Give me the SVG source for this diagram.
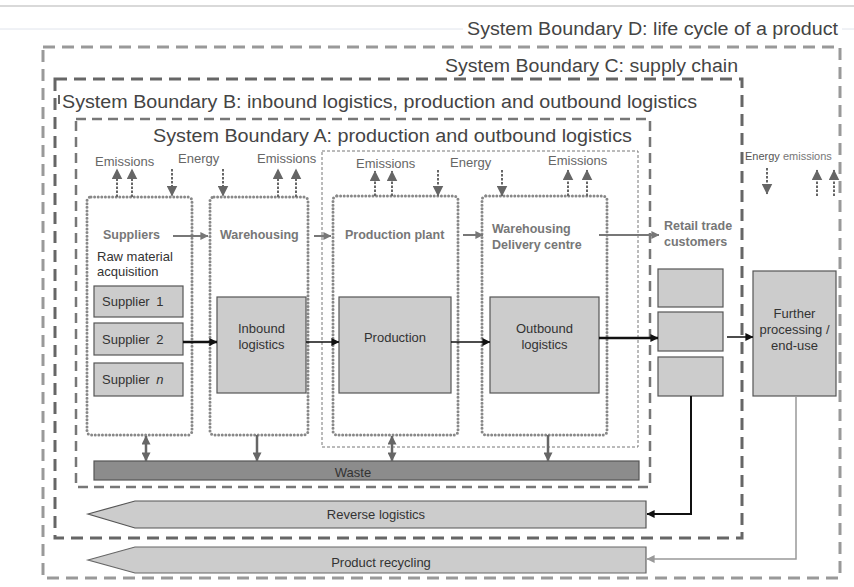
<svg xmlns="http://www.w3.org/2000/svg" width="854" height="587" viewBox="0 0 854 587">
<defs>
<marker id="hg" viewBox="0 0 10 10" refX="9.5" refY="5" markerWidth="11" markerHeight="11" markerUnits="userSpaceOnUse" orient="auto-start-reverse"><path d="M0,0 L10,5 L0,10 z" fill="#666"/></marker>
<marker id="hw" viewBox="0 0 10 10" refX="9.5" refY="5" markerWidth="9" markerHeight="9" markerUnits="userSpaceOnUse" orient="auto-start-reverse"><path d="M0,0 L10,5 L0,10 z" fill="#666"/></marker>
<marker id="hs" viewBox="0 0 10 10" refX="9.5" refY="5" markerWidth="8" markerHeight="8" markerUnits="userSpaceOnUse" orient="auto"><path d="M0,0 L10,5 L0,10 z" fill="#777"/></marker>
<marker id="hk" viewBox="0 0 10 10" refX="9.5" refY="5" markerWidth="8" markerHeight="8" markerUnits="userSpaceOnUse" orient="auto"><path d="M0,0 L10,5 L0,10 z" fill="#111"/></marker>
<marker id="hl" viewBox="0 0 10 10" refX="9.5" refY="5" markerWidth="8" markerHeight="8" markerUnits="userSpaceOnUse" orient="auto"><path d="M0,0 L10,5 L0,10 z" fill="#999"/></marker>
</defs>
<style>
text{font-family:"Liberation Sans",Arial,sans-serif}
.title{font-size:18px;fill:#444}
.lab{font-size:13px;fill:#666}
.bl{font-size:12.5px;font-weight:bold;fill:#777}
.bx{font-size:13px;fill:#333}
.bd{fill:none;stroke-width:3;stroke-dasharray:12 7}
.dot{fill:none;stroke:#888;stroke-width:3;stroke-dasharray:0 3.6;stroke-linecap:round}
.box{fill:#ccc;stroke:#555;stroke-width:1.2}
.ea{fill:none;stroke:#666;stroke-width:2;stroke-dasharray:2.5 1.5;marker-end:url(#hg)}
.fs{fill:none;stroke:#777;stroke-width:2;marker-end:url(#hs)}
.fk{fill:none;stroke:#111;marker-end:url(#hk)}
.wa{fill:none;stroke:#666;stroke-width:2.5}
</style>

<g id="header">
<line x1="0" y1="6" x2="854" y2="6" stroke="#ccc" stroke-width="1.5"/>
<line x1="0" y1="29" x2="463" y2="29" stroke="#e0e4ec" stroke-width="1"/>
<line x1="842" y1="29" x2="854" y2="29" stroke="#e0e4ec" stroke-width="1"/>
</g>

<g id="boundary-D">
<rect class="bd" x="43" y="47" width="797" height="531" stroke="#999"/>
<text class="title" x="467" y="35" textLength="371" lengthAdjust="spacingAndGlyphs">System Boundary D: life cycle of a product</text>
</g>
<g id="boundary-C">
<rect class="bd" x="55" y="79" width="687" height="459" stroke="#666"/>
<text class="title" x="445" y="72" textLength="293" lengthAdjust="spacingAndGlyphs">System Boundary C: supply chain</text>
</g>
<g id="boundary-B">
<line x1="59" y1="95" x2="59" y2="104" stroke="#666" stroke-width="2"/>
<text class="title" x="62" y="108" textLength="635" lengthAdjust="spacingAndGlyphs">System Boundary B: inbound logistics, production and outbound logistics</text>
</g>
<g id="boundary-A">
<rect x="76" y="119" width="574" height="368" fill="none" stroke="#777" stroke-width="2.5" stroke-dasharray="10 6"/>
<text class="title" x="153" y="142" textLength="479" lengthAdjust="spacingAndGlyphs">System Boundary A: production and outbound logistics</text>
</g>
<g id="production-area">
<rect x="322" y="151" width="316" height="296" fill="none" stroke="#777" stroke-width="1" stroke-dasharray="3 2"/>
</g>

<g id="suppliers">
<rect class="dot" x="87" y="197" width="105" height="238" rx="4"/>
<text class="bl" x="103" y="239">Suppliers</text>
<text class="bx" x="97" y="261">Raw material</text>
<text class="bx" x="97" y="276">acquisition</text>
<text class="lab" x="95" y="166">Emissions</text>
<text class="lab" x="178" y="163">Energy</text>
</g>
<g id="supplier-1"><rect class="box" x="94" y="286" width="89" height="31"/><text class="bx" x="102" y="306" style="word-spacing:3px">Supplier 1</text></g>
<g id="supplier-2"><rect class="box" x="94" y="323" width="89" height="32"/><text class="bx" x="102" y="344" style="word-spacing:3px">Supplier 2</text></g>
<g id="supplier-n"><rect class="box" x="94" y="363" width="89" height="33"/><text class="bx" x="102" y="384" style="word-spacing:3px">Supplier <tspan font-style="italic">n</tspan></text></g>

<g id="warehousing">
<rect class="dot" x="210" y="197" width="98" height="238" rx="4"/>
<text class="bl" x="220" y="239">Warehousing</text>
<text class="lab" x="257" y="163">Emissions</text>
</g>
<g id="inbound-logistics"><rect class="box" x="217" y="297" width="89" height="96"/><text class="bx" x="261.5" y="333" text-anchor="middle">Inbound</text><text class="bx" x="261.5" y="349" text-anchor="middle">logistics</text></g>

<g id="production-plant">
<rect class="dot" x="333" y="196" width="125" height="239" rx="4"/>
<text class="bl" x="345" y="239">Production plant</text>
<text class="lab" x="356" y="168">Emissions</text>
<text class="lab" x="450" y="167">Energy</text>
</g>
<g id="production"><rect class="box" x="339" y="297" width="112" height="96"/><text class="bx" x="395" y="342" text-anchor="middle">Production</text></g>

<g id="delivery-centre">
<rect class="dot" x="482" y="196" width="125" height="239" rx="4"/>
<text class="bl" x="492" y="233">Warehousing</text>
<text class="bl" x="492" y="249">Delivery centre</text>
<text class="lab" x="548" y="165">Emissions</text>
</g>
<g id="outbound-logistics"><rect class="box" x="490" y="297" width="109" height="96"/><text class="bx" x="544.5" y="333" text-anchor="middle">Outbound</text><text class="bx" x="544.5" y="349" text-anchor="middle">logistics</text></g>

<g id="retail">
<text class="bl" x="664" y="230">Retail trade</text>
<text class="bl" x="664" y="246">customers</text>
<rect class="box" x="658" y="269" width="65" height="38"/>
<rect class="box" x="658" y="312" width="65" height="39"/>
<rect class="box" x="658" y="357" width="65" height="39"/>
</g>

<g id="further-processing">
<text x="745" y="160" style="font-size:11px;fill:#555">Energy <tspan fill="#777">emissions</tspan></text>
<rect class="box" x="753" y="271" width="83" height="125"/>
<text class="bx" x="794.5" y="318" text-anchor="middle">Further</text>
<text class="bx" x="794.5" y="334" text-anchor="middle">processing /</text>
<text class="bx" x="794.5" y="350" text-anchor="middle">end-use</text>
</g>

<g id="waste"><rect x="94" y="461" width="545" height="19" fill="#8c8c8c" stroke="#555" stroke-width="1.2"/><text class="bx" x="353" y="477" text-anchor="middle">Waste</text></g>

<g id="reverse-logistics"><polygon points="88,514 135,501 646,501 646,528 135,528" fill="#ccc" stroke="#555" stroke-width="1.2"/><text class="bx" x="376" y="519" text-anchor="middle">Reverse logistics</text></g>
<g id="product-recycling"><polygon points="88,560 135,547 646,547 646,573 135,573" fill="#ccc" stroke="#666" stroke-width="1.2"/><text class="bx" x="381" y="567" text-anchor="middle">Product recycling</text></g>

<g id="connectors">
<line class="ea" x1="117" y1="197" x2="117" y2="169"/>
<line class="ea" x1="132" y1="197" x2="132" y2="169"/>
<line class="ea" x1="172" y1="169" x2="172" y2="196"/>
<line class="ea" x1="223" y1="169" x2="223" y2="196"/>
<line class="ea" x1="278" y1="197" x2="278" y2="169"/>
<line class="ea" x1="296" y1="197" x2="296" y2="169"/>
<line class="ea" x1="375" y1="196" x2="375" y2="171"/>
<line class="ea" x1="392" y1="196" x2="392" y2="171"/>
<line class="ea" x1="438" y1="170" x2="438" y2="196"/>
<line class="ea" x1="502" y1="170" x2="502" y2="196"/>
<line class="ea" x1="568" y1="196" x2="568" y2="170"/>
<line class="ea" x1="587" y1="196" x2="587" y2="170"/>
<line class="ea" x1="767" y1="168" x2="767" y2="194"/>
<line class="ea" x1="817" y1="196" x2="817" y2="170"/>
<line class="ea" x1="834" y1="196" x2="834" y2="170"/>
<line class="fs" x1="173" y1="236" x2="208" y2="236"/>
<line class="fs" x1="314" y1="236" x2="331" y2="236"/>
<line class="fs" x1="463" y1="235" x2="483" y2="235"/>
<line class="fs" x1="599" y1="235" x2="659" y2="235" stroke-width="2.5"/>
<line class="fk" x1="183" y1="342" x2="217" y2="342" stroke-width="2.5"/>
<line class="fk" x1="306" y1="342" x2="339" y2="342" stroke-width="1.5"/>
<line class="fk" x1="451" y1="342" x2="490" y2="342" stroke-width="1.5"/>
<line class="fk" x1="599" y1="338" x2="658" y2="338" stroke-width="2.5"/>
<line class="fk" x1="727" y1="337" x2="753" y2="337" stroke-width="1.5"/>
<line class="wa" x1="146" y1="436" x2="146" y2="461" marker-start="url(#hw)" marker-end="url(#hw)"/>
<line class="wa" x1="257" y1="435" x2="257" y2="461" stroke-width="2" marker-end="url(#hw)"/>
<line class="wa" x1="392" y1="436" x2="392" y2="461" stroke-width="2" marker-start="url(#hw)" marker-end="url(#hw)"/>
<line class="wa" x1="548" y1="435" x2="548" y2="461" stroke-width="3" marker-end="url(#hw)"/>
<path class="fk" d="M691,396 V514 H647" stroke-width="2"/>
<path d="M796,396 V559 H647" fill="none" stroke="#999" stroke-width="1.5" marker-end="url(#hl)"/>
</g>
</svg>
